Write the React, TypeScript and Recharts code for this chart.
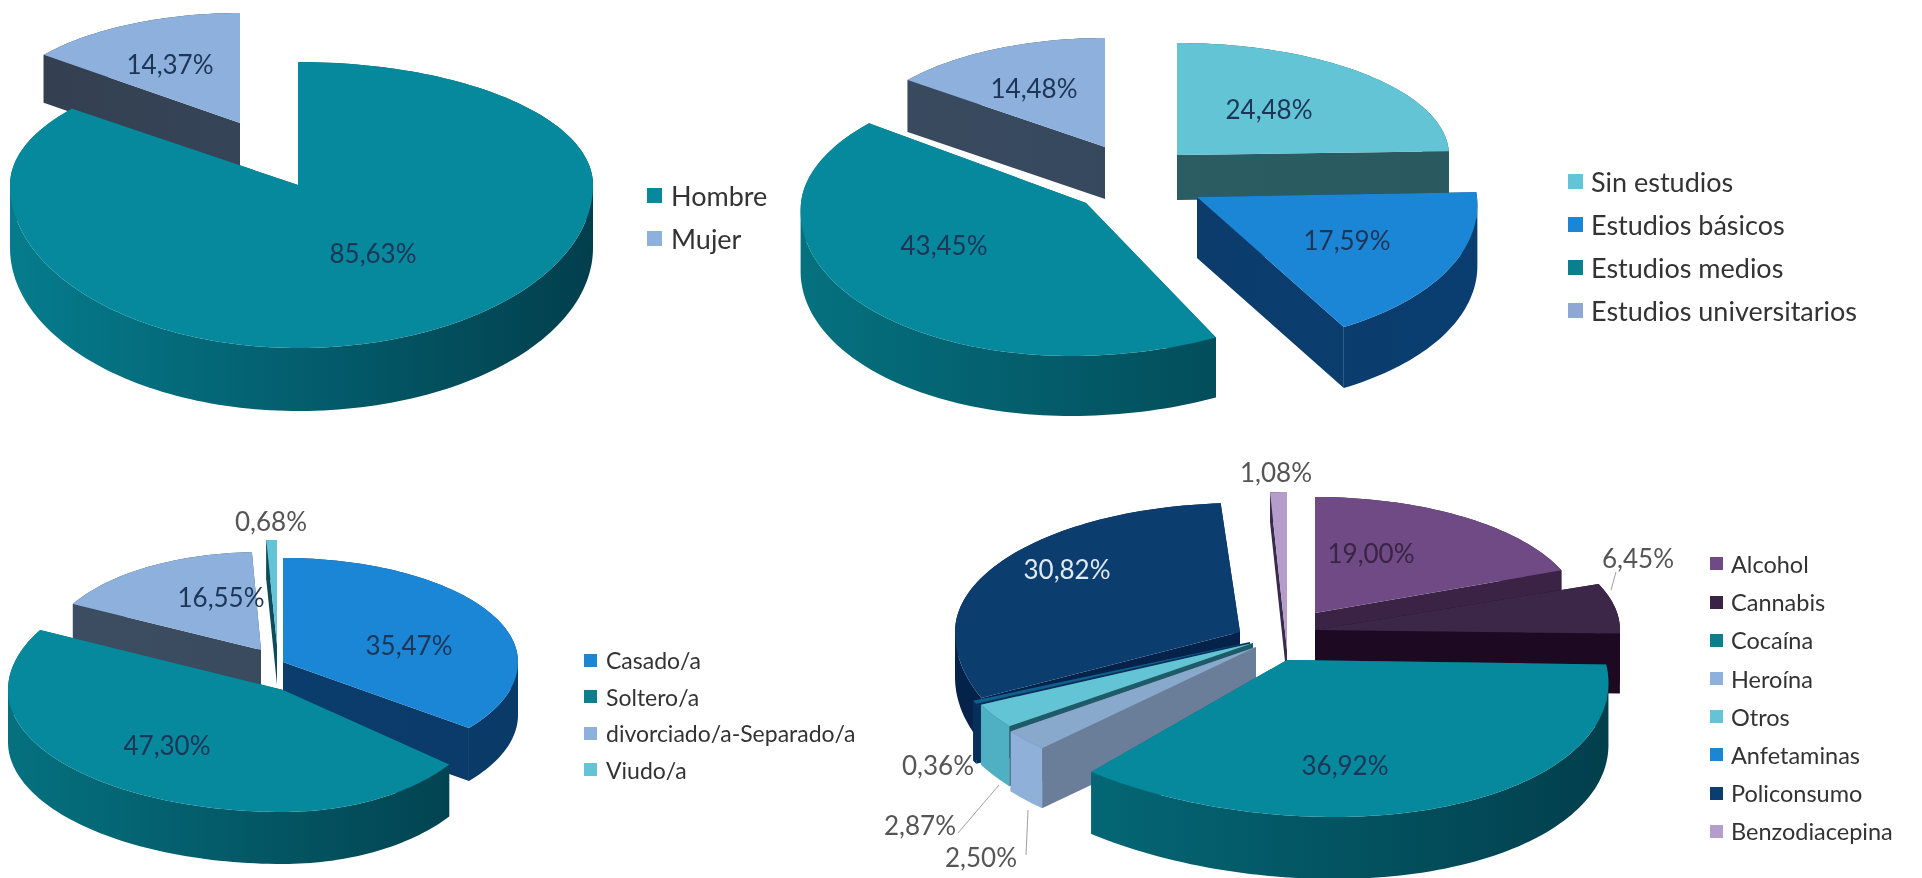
import { Legend, Pie, PieChart } from 'recharts';

const FONT = 'Lato, "Open Sans", sans-serif';

const sexNames = ['Hombre', 'Mujer'];
const sexValues = [85.63, 14.37];
const sexLabels = ['85,63%', '14,37%'];

const studyNames = ['Sin estudios', 'Estudios básicos', 'Estudios medios', 'Estudios universitarios'];
const studyValues = [24.48, 17.59, 43.45, 14.48];
const studyLabels = ['24,48%', '17,59%', '43,45%', '14,48%'];

const civilNames = ['Casado/a', 'Soltero/a', 'divorciado/a-Separado/a', 'Viudo/a'];
const civilValues = [35.47, 47.3, 16.55, 0.68];
const civilLabels = ['35,47%', '47,30%', '16,55%', '0,68%'];

const drugNames = ['Alcohol', 'Cannabis', 'Cocaína', 'Heroína', 'Otros', 'Anfetaminas', 'Policonsumo', 'Benzodiacepina'];
const drugValues = [19.0, 6.45, 36.92, 2.5, 2.87, 0.36, 30.82, 1.08];
const drugLabels = ['19,00%', '6,45%', '36,92%', '2,50%', '2,87%', '0,36%', '30,82%', '1,08%'];

const TEAL = '#06899c';
const SKY = '#8db1dc';
const BLUE = '#1c86d6';
const AQUA = '#62c4d4';
const NAVY = '#0b3d6f';
const INK = '#1d3557';
const GREY = '#555555';

// slice geometry in page pixels, listed in painting order
type Solid = {
  name: string; x: number; y: number;
  rxL: number; rxR: number; ryB: number; ryF: number; depth: number;
  top: string; wallA: string; wallB: string;
  skew: number; arc?: string;
};
const solid = (
  name: string, x: number, y: number, rxL: number, rxR: number, ryB: number, ryF: number,
  depth: number, top: string, wallA: string, wallB: string, skew = 0, arc?: string,
): Solid => ({ name, x, y, rxL, rxR, ryB, ryF, depth, top, wallA, wallB, skew, arc });

const panels = [
  {
    id: 'sex', left: 0, top: 0, width: 640, height: 440,
    names: sexNames, values: sexValues, labels: sexLabels,
    legend: { x: 647, y: 195, gap: 43, size: 27, textGap: 9, box: 15 },
    colors: { Hombre: TEAL, Mujer: SKY },
    solids: [
      solid('Mujer', 240, 123, 250, 250, 110, 110, 48, SKY, '#343f50', '#37495f'),
      solid('Hombre', 298, 185, 288, 295, 123, 163, 63, TEAL, '#057c8d', '#023f4d'),
    ],
    text: [
      { name: 'Hombre', x: 373, y: 253, fill: INK },
      { name: 'Mujer', x: 170, y: 64, fill: INK },
    ],
    leaders: [],
  },
  {
    id: 'study', left: 640, top: 0, width: 1282, height: 440,
    names: studyNames, values: studyValues, labels: studyLabels,
    legend: { x: 1568, y: 181, gap: 43, size: 27, textGap: 8, box: 15 },
    colors: { 'Sin estudios': AQUA, 'Estudios básicos': BLUE, 'Estudios medios': '#0b7f8c', 'Estudios universitarios': '#8fa8d2' },
    solids: [
      solid('Sin estudios', 1177, 155, 272, 272, 112, 112, 45, AQUA, '#2c5f66', '#2a5a60'),
      solid('Estudios universitarios', 1105, 147, 250, 250, 109, 109, 52, SKY, '#3a4b60', '#34465c'),
      solid('Estudios medios', 1086, 203, 285, 300, 130, 153, 60, TEAL, '#05717f', '#023f4d', -0.1),
      solid('Estudios básicos', 1197, 197, 290, 280, 148, 148, 61, BLUE, '#0c3a68', '#0a3e70', 0.1),
    ],
    text: [
      { name: 'Sin estudios', x: 1269, y: 109, fill: INK },
      { name: 'Estudios básicos', x: 1347, y: 240, fill: INK },
      { name: 'Estudios medios', x: 944, y: 245, fill: INK },
      { name: 'Estudios universitarios', x: 1034, y: 88, fill: INK },
    ],
    leaders: [],
  },
  {
    id: 'civil', left: 0, top: 440, width: 860, height: 438,
    names: civilNames, values: civilValues, labels: civilLabels,
    legend: { x: 584, y: 660, gap: 36.5, size: 23, textGap: 9, box: 13 },
    colors: { 'Casado/a': BLUE, 'Soltero/a': '#0b7f8c', 'divorciado/a-Separado/a': SKY, 'Viudo/a': AQUA },
    solids: [
      solid('divorciado/a-Separado/a', 261, 650, 213, 213, 98, 98, 42, SKY, '#3d4d62', '#36475c'),
      solid('Viudo/a', 277, 645, 250, 250, 105, 105, 40, AQUA, '#0e4b5c', '#0e4b5c'),
      solid('Casado/a', 283, 662, 235, 235, 104, 108, 53, BLUE, '#0b3f72', '#0a3a68'),
      solid('Soltero/a', 283, 690, 275, 210, 128, 122, 52, TEAL, '#05717f', '#023f4d'),
    ],
    text: [
      { name: 'Casado/a', x: 409, y: 645, fill: INK },
      { name: 'Soltero/a', x: 167, y: 745, fill: INK },
      { name: 'divorciado/a-Separado/a', x: 221, y: 597, fill: INK },
      { name: 'Viudo/a', x: 271, y: 521, fill: GREY },
    ],
    leaders: [],
  },
  {
    id: 'drug', left: 860, top: 440, width: 1062, height: 438,
    names: drugNames, values: drugValues, labels: drugLabels,
    legend: { x: 1710, y: 564, gap: 38.2, size: 23.5, textGap: 8, box: 13 },
    colors: {
      Alcohol: '#6f4a84', Cannabis: '#3a2345', 'Cocaína': '#0b7f8c', 'Heroína': SKY,
      Otros: AQUA, Anfetaminas: BLUE, Policonsumo: NAVY, Benzodiacepina: '#b49ccb',
    },
    solids: [
      solid('Benzodiacepina', 1287, 650, 250, 250, 158, 158, 30, '#b49ccb', '#3a2a4e', '#3a2a4e'),
      solid('Alcohol', 1315, 613, 265, 265, 116, 116, 50, '#6f4a84', '#3a2345', '#3a2345'),
      solid('Cannabis', 1315, 630, 305, 305, 125, 125, 60, '#3d2748', '#1d0a22', '#1d0a22'),
      solid('Policonsumo', 1240, 632, 285, 285, 129, 157, 45, NAVY, '#05234a', '#05234a'),
      solid('Anfetaminas', 1250, 642, 305, 305, 140, 140, 60, '#0f5f8f', '#06305a', '#06305a'),
      solid('Otros', 1253, 643, 303, 303, 140, 140, 60, AQUA, '#1f5a68', '#1f5a68', 0, '#4fb0c4'),
      solid('Heroína', 1256, 647, 305, 305, 142, 142, 60, '#88a9cc', '#6b7e99', '#6b7e99', 0, '#8fb0d8'),
      solid('Cocaína', 1287, 660, 327, 318, 150, 157, 62, TEAL, '#05717f', '#023f4d', 0.3),
    ],
    text: [
      { name: 'Alcohol', x: 1371, y: 553, fill: '#3a2345' },
      { name: 'Cannabis', x: 1638, y: 558, fill: GREY },
      { name: 'Cocaína', x: 1345, y: 765, fill: INK },
      { name: 'Heroína', x: 981, y: 857, fill: GREY },
      { name: 'Otros', x: 920, y: 825, fill: GREY },
      { name: 'Anfetaminas', x: 938, y: 765, fill: GREY },
      { name: 'Policonsumo', x: 1067, y: 569, fill: '#dfeaf5' },
      { name: 'Benzodiacepina', x: 1276, y: 472, fill: GREY },
    ],
    leaders: [
      { name: 'Cannabis', x1: 1616, y1: 572, x2: 1611, y2: 590 },
      { name: 'Otros', x1: 958, y1: 833, x2: 999, y2: 785 },
      { name: 'Heroína', x1: 1026, y1: 855, x2: 1028, y2: 810 },
    ],
  },
];

const RAD = Math.PI / 180;

// Project a clockwise-from-top angle onto the tilted disc of one slice
const project = (s: Solid, deg: number) => {
  const sin = Math.sin(deg * RAD);
  const cos = Math.cos(deg * RAD);
  const dy = -(cos > 0 ? s.ryB : s.ryF) * cos;
  return {
    x: s.x + (sin > 0 ? s.rxR : s.rxL) * sin + s.skew * dy,
    y: s.y + dy,
  };
};

type Pt = { x: number; y: number };

// each boundary segment pulled straight down, wound the same way so they never cancel
const extrude = (pts: Pt[], depth: number) => {
  let d = '';
  for (let i = 0; i < pts.length - 1; i++) {
    const a = pts[i];
    const b = pts[i + 1];
    const l = b.x >= a.x ? a : b;
    const r = b.x >= a.x ? b : a;
    d += `M${l.x},${l.y}L${r.x},${r.y}L${r.x},${r.y + depth}L${l.x},${l.y + depth}Z`;
  }
  return d;
};

function Slice3D({ s, from, to, dx, dy, gid }: { s: Solid; from: number; to: number; dx: number; dy: number; gid: string }) {
  const steps = Math.max(2, Math.ceil((to - from) / 1.5));
  const arc: Pt[] = [];
  for (let i = 0; i <= steps; i++) {
    const p = project(s, from + ((to - from) * i) / steps);
    arc.push({ x: p.x - dx, y: p.y - dy });
  }
  const apex = { x: s.x - dx, y: s.y - dy };
  const radial = extrude([arc[0], apex, arc[arc.length - 1]], s.depth);
  const outer = extrude(arc, s.depth);
  const top = `M${apex.x},${apex.y}L${arc.map((p) => `${p.x},${p.y}`).join('L')}Z`;
  const wallFill = `url(#${gid})`;

  return (
    <g>
      <defs>
        <linearGradient
          id={gid}
          gradientUnits="userSpaceOnUse"
          x1={s.x - s.rxL - dx}
          x2={s.x + s.rxR - dx}
          y1={0}
          y2={0}
        >
          <stop offset="0%" stopColor={s.wallA} />
          <stop offset="100%" stopColor={s.wallB} />
        </linearGradient>
      </defs>
      <path d={radial} fill={wallFill} />
      <path d={outer} fill={s.arc ?? wallFill} />
      <path d={top} fill={s.top} />
    </g>
  );
}

function Panel({ panel }: { panel: (typeof panels)[number] }) {
  const table = panel.names.map((name, i) => ({
    name,
    value: panel.values[i],
    label: panel.labels[i],
    fill: (panel.colors as Record<string, string>)[name],
  }));
  const { legend } = panel;

  const renderLegend = () => (
    <div style={{ fontFamily: FONT, fontSize: legend.size, color: '#333333' }}>
      {table.map((d) => (
        <div key={d.name} style={{ display: 'flex', alignItems: 'center', height: legend.gap, whiteSpace: 'nowrap' }}>
          <span style={{ width: legend.box, height: legend.box, background: d.fill, marginRight: legend.textGap, flex: 'none' }} />
          {d.name}
        </div>
      ))}
    </div>
  );

  const renderLabel = (props: any) => {
    const name = props.name ?? props.payload?.name;
    const t = panel.text.find((e) => e.name === name);
    if (!t) return null;
    const row = table.find((d) => d.name === name);
    const line = panel.leaders.find((e) => e.name === name);
    return (
      <g key={name}>
        {line && (
          <line
            x1={line.x1 - panel.left}
            y1={line.y1 - panel.top}
            x2={line.x2 - panel.left}
            y2={line.y2 - panel.top}
            stroke="#a0a0a0"
            strokeWidth={1}
          />
        )}
        <text
          x={t.x - panel.left}
          y={t.y - panel.top}
          fill={t.fill}
          textAnchor="middle"
          dominantBaseline="central"
          fontFamily={FONT}
          fontSize={26}
        >
          {row?.label}
        </text>
      </g>
    );
  };

  return (
    <div style={{ position: 'absolute', left: panel.left, top: panel.top, width: panel.width, height: panel.height }}>
      <PieChart width={panel.width} height={panel.height} margin={{ top: 0, right: 0, bottom: 0, left: 0 }}>
        {panel.solids.map((s, i) => (
          <Pie
            key={s.name}
            data={table}
            dataKey="value"
            nameKey="name"
            startAngle={90}
            endAngle={-270}
            stroke="none"
            isAnimationActive={false}
            legendType={i === 0 ? 'square' : 'none'}
            shape={(props: any) =>
              (props.name ?? props.payload?.name) === s.name ? (
                <Slice3D
                  s={s}
                  from={90 - props.startAngle}
                  to={90 - props.endAngle}
                  dx={panel.left}
                  dy={panel.top}
                  gid={`${panel.id}-wall-${i}`}
                />
              ) : (
                <g />
              )
            }
          />
        ))}
        <Pie
          data={table}
          dataKey="value"
          nameKey="name"
          startAngle={90}
          endAngle={-270}
          stroke="none"
          isAnimationActive={false}
          legendType="none"
          shape={() => <g />}
          label={renderLabel}
          labelLine={false}
        />
        <Legend
          content={renderLegend}
          layout="vertical"
          verticalAlign="top"
          align="left"
          wrapperStyle={{
            left: legend.x - panel.left,
            top: legend.y - panel.top - legend.gap / 2,
            width: 'auto',
          }}
        />
      </PieChart>
    </div>
  );
}

export default function App() {
  return (
    <div style={{ position: 'absolute', left: 0, top: 0, width: 1922, height: 878, background: '#fff', overflow: 'hidden', filter: 'blur(0.7px)' }}>
      {panels.map((panel) => (
        <Panel key={panel.id} panel={panel} />
      ))}
    </div>
  );
}
